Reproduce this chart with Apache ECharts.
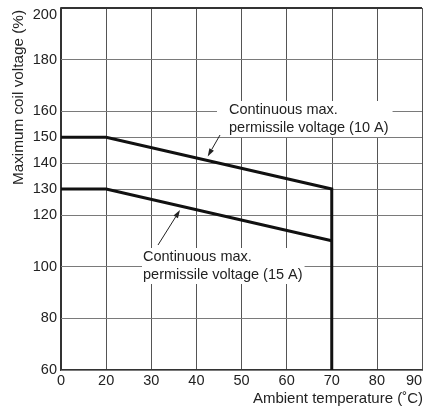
<!DOCTYPE html>
<html>
<head>
<meta charset="utf-8">
<script src="https://cdn.jsdelivr.net/npm/echarts@6/dist/echarts.min.js"></script>
<style>
html,body{margin:0;padding:0;background:#fff;}
#chart{width:425px;height:406px;}
</style>
</head>
<body>
<div id="chart"></div>
<script>
// ---- data ----
var xCategories = ['0', '20', '30', '40', '50', '60', '70', '80', '90'];
var yTickValues = [60, 80, 100, 120, 130, 140, 150, 160, 180, 200];
var temp10A = [0, 20, 70, 70];
var volt10A = [150, 150, 130, 60];
var temp15A = [0, 20, 70];
var volt15A = [130, 130, 110];
var label10A = 'Continuous max.\npermissile voltage (10 A)';
var label15A = 'Continuous max.\npermissile voltage (15 A)';

var FONT = '"Liberation Sans", Arial, Helvetica, sans-serif';

function pairs(xs, ys) {
  return xs.map(function (x, i) { return [String(x), ys[i]]; });
}

function arrow(tail, head) {
  var dx = head[0] - tail[0], dy = head[1] - tail[1];
  var len = Math.sqrt(dx * dx + dy * dy);
  var ux = dx / len, uy = dy / len;
  var hl = 8, hw = 2.6;
  var bx = head[0] - hl * ux, by = head[1] - hl * uy;
  var nx = -uy, ny = ux;
  return [
    { type: 'polyline', z: 110, shape: { points: [tail, [bx, by]] }, style: { stroke: '#222', lineWidth: 1, fill: null } },
    { type: 'polygon', z: 110, shape: { points: [head, [bx + hw * nx, by + hw * ny], [bx - hw * nx, by - hw * ny]] }, style: { fill: '#222', stroke: null } }
  ];
}

var gridLines = yTickValues.map(function (v) {
  var top = v === 200;
  return {
    yAxis: v,
    lineStyle: { color: top ? '#333' : '#7a7a7a', width: top ? 2 : 1, type: 'solid' }
  };
});

var chart = echarts.init(document.getElementById('chart'), null, { renderer: 'canvas' });

var option = {
  backgroundColor: '#fff',
  animation: false,
  textStyle: { fontFamily: FONT },
  grid: { left: 61, right: 3, top: 8, bottom: 36, containLabel: false, outerBoundsMode: 'none' },
  xAxis: {
    type: 'category',
    data: xCategories,
    boundaryGap: false,
    axisLine: { show: true, lineStyle: { color: '#333', width: 2 } },
    axisTick: { show: false },
    axisLabel: {
      interval: 0, margin: 3, color: '#222', fontSize: 14.5, fontFamily: FONT,
      formatter: function (v) { return v === '90' ? '{r|' + v + '}' : v; },
      rich: { r: { padding: [0, 16, 0, 0], color: '#222', fontSize: 14.5, fontFamily: FONT } }
    },
    splitLine: { show: true, interval: 0, lineStyle: { color: '#555', width: 1 } },
    name: 'Ambient temperature (\u02DAC)',
    nameLocation: 'end',
    nameGap: 1,
    nameTextStyle: { align: 'right', verticalAlign: 'top', padding: [21, 0, 0, 0], color: '#222', fontSize: 15, fontFamily: FONT }
  },
  yAxis: {
    type: 'value',
    min: 60,
    max: 200,
    interval: 10,
    axisLine: { show: true, lineStyle: { color: '#333', width: 2 } },
    axisTick: { show: false },
    splitLine: { show: false },
    axisLabel: {
      margin: 4, color: '#222', fontSize: 14.5, fontFamily: FONT,
      formatter: function (v) {
        if (yTickValues.indexOf(v) < 0) return '';
        return v === 200 ? '{t|' + v + '}' : String(v);
      },
      rich: { t: { padding: [14, 0, 0, 0], color: '#222', fontSize: 14.5, fontFamily: FONT } }
    },
    name: 'Maximum coil voltage (%)',
    nameLocation: 'end',
    nameRotate: 90,
    nameGap: -2,
    nameTextStyle: { align: 'right', verticalAlign: 'bottom', padding: [0, 0, 35, 0], color: '#222', fontSize: 15.3, fontFamily: FONT }
  },
  series: [
    {
      name: 'grid',
      type: 'line',
      data: [],
      silent: true,
      markLine: {
        silent: true,
        symbol: ['none', 'none'],
        label: { show: false },
        animation: false,
        data: gridLines
      },
      z: 1
    },
    {
      name: '10 A',
      type: 'line',
      data: pairs(temp10A, volt10A),
      symbol: 'none',
      lineStyle: { color: '#111', width: 3, join: 'miter', cap: 'butt' },
      z: 5
    },
    {
      name: '15 A',
      type: 'line',
      data: pairs(temp15A, volt15A),
      symbol: 'none',
      lineStyle: { color: '#111', width: 3, join: 'miter', cap: 'butt' },
      z: 5
    }
  ],
  graphic: [
    {
      type: 'text', z: 100, x: 217, y: 101,
      style: { text: label10A, fill: '#222', fontSize: 14.5, fontFamily: FONT, lineHeight: 18, backgroundColor: '#fff', padding: [0, 4, 0, 12] }
    },
    {
      type: 'text', z: 100, x: 142, y: 248,
      style: { text: label15A, fill: '#222', fontSize: 14.5, fontFamily: FONT, lineHeight: 18, backgroundColor: '#fff', padding: [0, 2, 0, 1] }
    }
  ].concat(arrow([220, 135], [207.7, 156.5])).concat(arrow([158, 245], [180, 210]))
};

chart.setOption(option);
</script>
</body>
</html>
